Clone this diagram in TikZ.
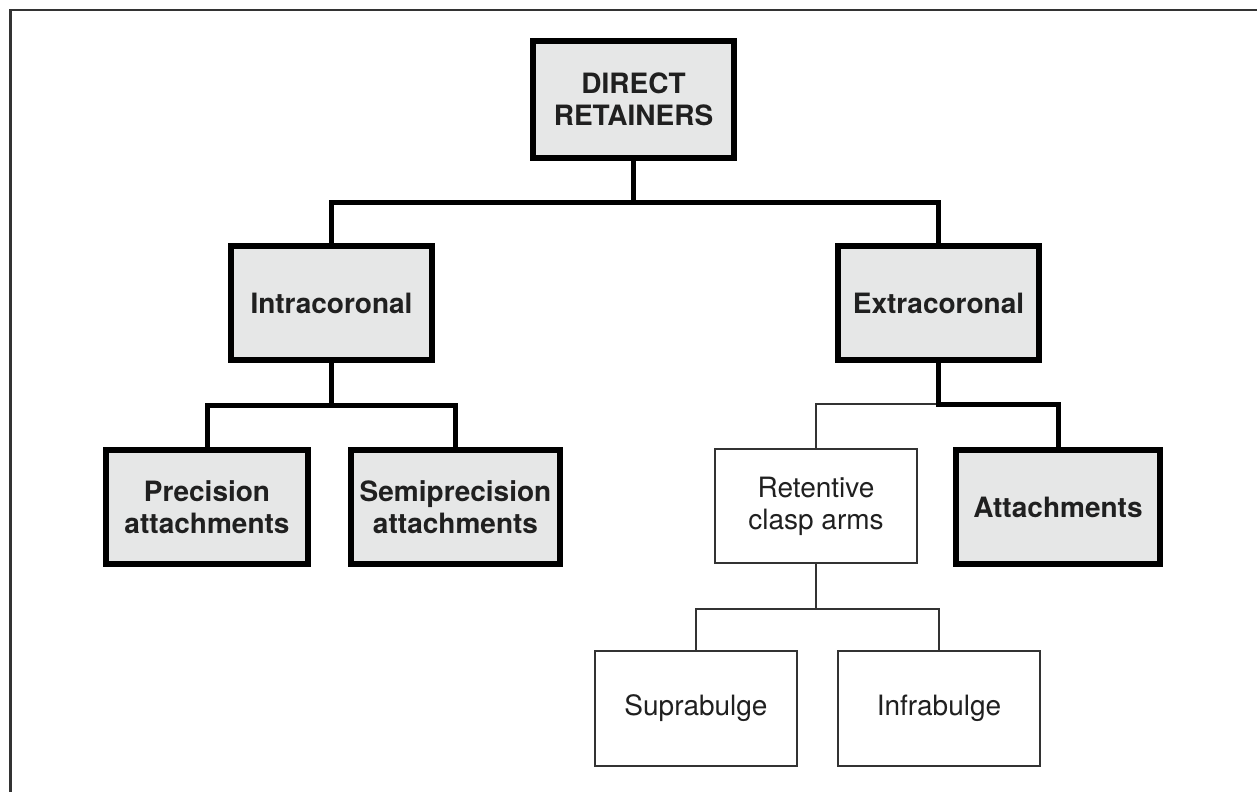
\documentclass[tikz,border=0pt]{standalone}
\usepackage{fontspec}
\setmainfont{TeX Gyre Heros}
\definecolor{boxgray}{HTML}{E6E7E7}
\definecolor{txt}{HTML}{202020}
\begin{document}
\begin{tikzpicture}[x=1pt,y=-1pt,
  thickbox/.style={draw=black, line width=6pt, fill=boxgray, inner sep=0pt,
    align=center, text=txt, font=\fontsize{28}{32}\selectfont\bfseries},
  thinbox/.style={draw=black!80, line width=2pt, fill=white, inner sep=0pt,
    align=center, text=txt, font=\fontsize{28}{32}\selectfont},
  thickline/.style={draw=black, line width=5pt},
  thinline/.style={draw=black!80, line width=2pt},
  frameline/.style={draw=black!80, line width=2.5pt}]
\useasboundingbox (0,0) rectangle (1257,792);
% frame (top and left only)
\draw[frameline] (1257,10) -- (10.5,10) -- (10.5,792);
% nodes
\node[thickbox, minimum width=201pt, minimum height=117pt] (dr) at (633.5,99.5) {DIRECT\\RETAINERS};
\node[thickbox, minimum width=201pt, minimum height=114pt] (intra) at (331.5,303) {Intracoronal};
\node[thickbox, minimum width=201pt, minimum height=114pt] (extra) at (938.5,303) {Extracoronal};
\node[thickbox, minimum width=202pt, minimum height=114pt] (prec) at (207,507) {Precision\\attachments};
\node[thickbox, minimum width=209pt, minimum height=114pt] (semi) at (455.5,507) {Semiprecision\\attachments};
\node[thickbox, minimum width=204pt, minimum height=114pt] (att) at (1058,507) {Attachments};
\node[thinbox, minimum width=202pt, minimum height=114pt] (ret) at (816,506) {Retentive\\clasp arms};
\node[thinbox, minimum width=202pt, minimum height=115pt] (supra) at (696,708.5) {Suprabulge};
\node[thinbox, minimum width=202pt, minimum height=115pt] (infra) at (939,708.5) {Infrabulge};
% junctions
\coordinate (j1) at (633.5,202);
\coordinate (j2) at (331.5,405);
\coordinate (j3) at (938.5,404);
\coordinate (j4) at (816,609);
% connectors
\draw[thickline] (dr.south) -- (j1);
\draw[thickline] (intra.north) |- (j1) -| (extra.north);
\draw[thickline] (intra.south) -- (j2);
\draw[thickline] (prec.north) |- (j2) -| (semi.north);
\draw[thinline] (ret.north) |- (j3);
\draw[thickline] (extra.south) -- (j3) -| (att.north);
\draw[thinline] (ret.south) -- (j4);
\draw[thinline] (supra.north) |- (j4) -| (infra.north);
\end{tikzpicture}
\end{document}
